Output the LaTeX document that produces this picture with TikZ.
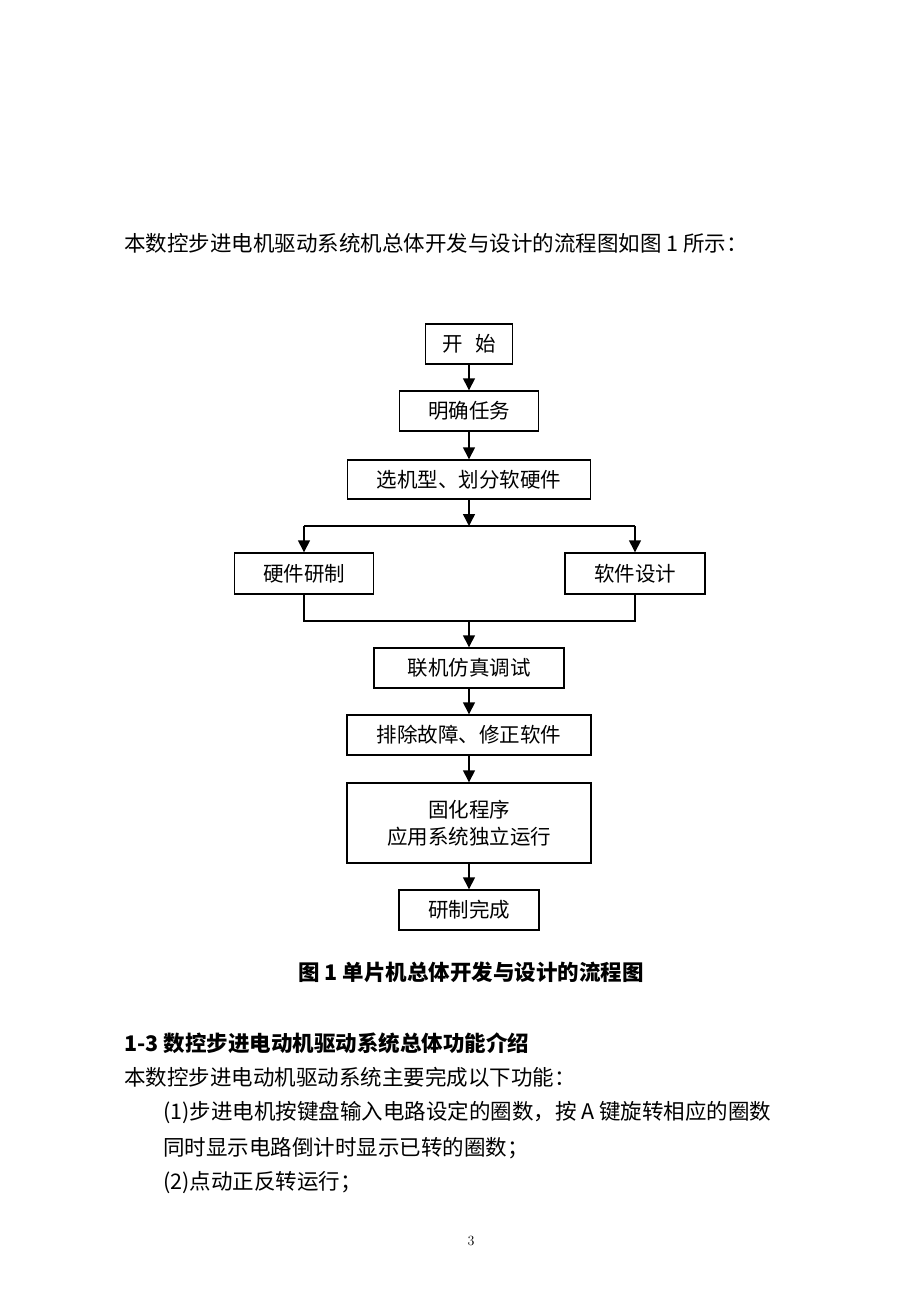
\documentclass[tikz,border=0pt]{standalone}
\usepackage{fontspec}
\newfontfamily\cjk{Noto Sans CJK SC}
\usetikzlibrary{arrows.meta}
\begin{document}
\begin{tikzpicture}[x=1pt,y=-1pt,
  box/.style={draw, line width=1.4pt, inner sep=0pt, align=center, font=\cjk\fontsize{20.5}{27}\selectfont},
  conn/.style={line width=1.4pt},
  arr/.style={line width=1.4pt, -{Triangle[width=12pt,length=12pt]}},
  body/.style={anchor=west, inner sep=0pt, font=\cjk\fontsize{21.5}{24}\selectfont},
  bold/.style={inner sep=0pt, font=\cjk\bfseries\fontsize{21.5}{24}\selectfont}]
\useasboundingbox[fill=white] (0,0) rectangle (920,1300);

\node[body] (intro) at (124,243) {本数控步进电机驱动系统机总体开发与设计的流程图如图 1 所示：};

\node[box, minimum width=87pt, minimum height=40pt] (start) at (469,344) {开\hspace{0.6em}始};
\node[box, minimum width=139pt, minimum height=40pt] (task) at (469,411) {明确任务};
\node[box, minimum width=243pt, minimum height=39pt] (sel) at (469,479.5) {选机型、划分软硬件};
\node[box, minimum width=139pt, minimum height=41pt] (hw) at (304,573.5) {硬件研制};
\node[box, minimum width=140pt, minimum height=41pt] (sw) at (635,573.5) {软件设计};
\node[box, minimum width=190pt, minimum height=40pt] (sim) at (469,668) {联机仿真调试};
\node[box, minimum width=244pt, minimum height=40pt] (fix) at (469,735) {排除故障、修正软件};
\node[box, minimum width=244pt, minimum height=80pt] (rom) at (469,823) {固化程序\\应用系统独立运行};
\node[box, minimum width=140pt, minimum height=40pt] (done) at (469,910) {研制完成};

\coordinate (split) at (469,526);
\coordinate (merge) at (469,621);

\draw[arr] (start) -- (task);
\draw[arr] (task) -- (sel);
\draw[arr] (sel) -- (split);
\draw[conn] (hw.north |- split) -- (sw.north |- split);
\draw[arr] (hw.north |- split) -- (hw.north);
\draw[arr] (sw.north |- split) -- (sw.north);
\draw[conn] (hw.south) -- (hw.south |- merge) -- (sw.south |- merge) -- (sw.south);
\draw[arr] (merge) -- (sim);
\draw[arr] (sim) -- (fix);
\draw[arr] (fix) -- (rom);
\draw[arr] (rom) -- (done);

\node[bold] (cap) at (471,972) {图 1 单片机总体开发与设计的流程图};
\node[bold, anchor=west] (head) at (124,1043) {1-3 数控步进电动机驱动系统总体功能介绍};
\node[body] (l1) at (124,1077) {本数控步进电动机驱动系统主要完成以下功能：};
\node[body] (l2) at (163,1112) {(1)步进电机按键盘输入电路设定的圈数，按 A 键旋转相应的圈数};
\node[body] (l3) at (163,1148) {同时显示电路倒计时显示已转的圈数；};
\node[body] (l4) at (163,1183) {(2)点动正反转运行；};
\node[inner sep=0pt, font=\fontsize{14}{16}\selectfont] (page) at (471,1241) {3};
\end{tikzpicture}
\end{document}
